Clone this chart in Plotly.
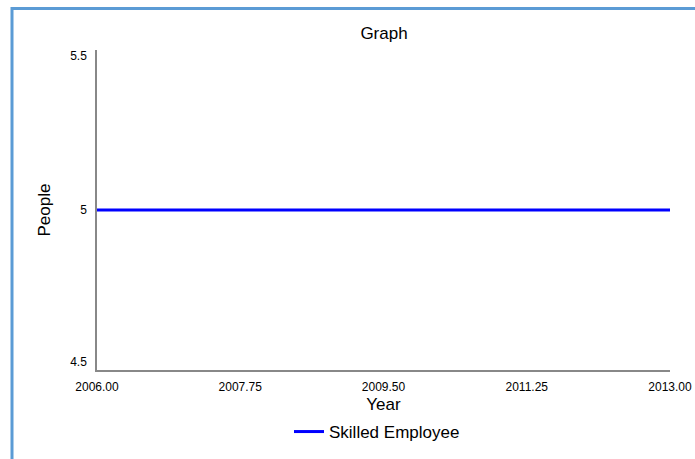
import plotly.graph_objects as go

years = [2006, 2007, 2008, 2009, 2010, 2011, 2012, 2013]
skilled = [5, 5, 5, 5, 5, 5, 5, 5]
x_ticks = [2006.00, 2007.75, 2009.50, 2011.25, 2013.00]
y_ticks = [4.5, 5, 5.5]

FONT = "Liberation Sans, Arial, sans-serif"
W, H = 695, 459
L, R, T, B = 97, 25, 50, 89
pw, ph = W - L - R, H - T - B

# end labels sit a few pixels inside the axis ends, as in the original
y_pos = [y_ticks[0] + 8 / ph, y_ticks[1], y_ticks[2] - 6 / ph]

fig = go.Figure()
fig.add_trace(go.Scatter(
    x=years, y=skilled, mode="lines", name="Skilled Employee",
    line=dict(color="#0000ff", width=3),
))

# blue frame of the container (only top and left edges visible)
fig.add_shape(
    type="rect", xref="paper", yref="paper",
    x0=(12 - L) / pw, x1=2, y0=-2, y1=(H - B - 8.5) / ph,
    line=dict(color="#5b9bd5", width=3), layer="above",
)

fig.update_layout(
    template="none",
    width=W, height=H, margin=dict(l=L, r=R, t=T, b=B),
    paper_bgcolor="white", plot_bgcolor="white",
    font=dict(family=FONT, color="#000000"),
    title=dict(text="Graph", x=384 / W, xanchor="center",
               y=1 - 33 / H, yanchor="middle", font=dict(size=17)),
    showlegend=True,
    legend=dict(orientation="h", xref="container", yref="container",
                x=377 / W, xanchor="center", y=1 - 432 / H, yanchor="middle",
                font=dict(size=17), itemwidth=30),
    xaxis=dict(
        title=dict(text="Year", font=dict(size=17), standoff=7),
        range=[2006, 2013], tickvals=x_ticks,
        ticktext=[f"{v:.2f}" for v in x_ticks], automargin=False,
        showgrid=False, zeroline=False, showline=True, linecolor="#888888",
        linewidth=1.5, ticks="", tickfont=dict(size=12), ticklabelstandoff=5,
    ),
    yaxis=dict(
        title=dict(text="People", font=dict(size=17), standoff=15),
        range=[4.5, 5.5], tickvals=y_pos, ticktext=["4.5", "5", "5.5"],
        automargin=False,
        showgrid=False, zeroline=False, showline=True, linecolor="#888888",
        linewidth=1.5, ticks="", tickfont=dict(size=12), ticklabelstandoff=6,
    ),
)

fig.write_html("out.html", config={"displayModeBar": False},
               post_script="document.body.style.margin='0';")
